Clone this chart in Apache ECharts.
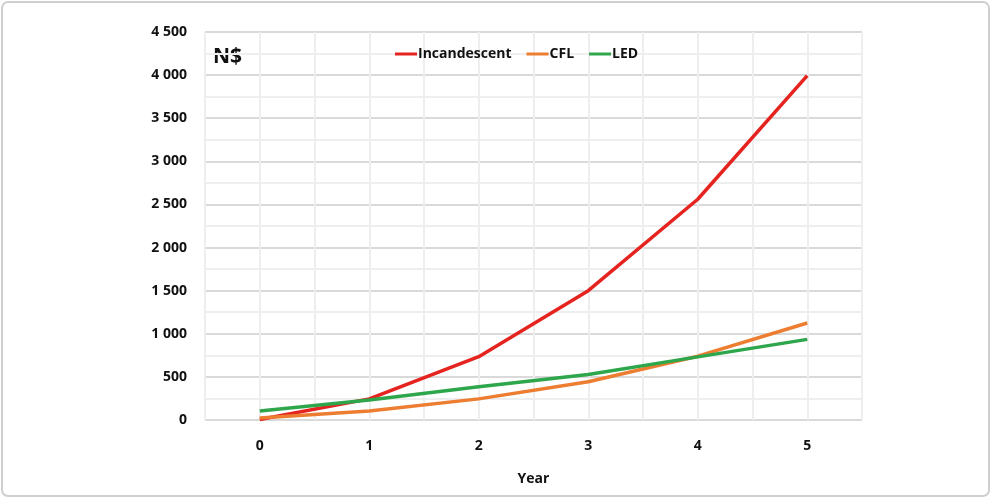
<!DOCTYPE html>
<html>
<head>
<meta charset="utf-8">
<script src="https://cdn.jsdelivr.net/npm/echarts@6/dist/echarts.min.js"></script>
<style>
html,body{margin:0;padding:0;background:#fff;}
#chart{width:991px;height:498px;}
</style>
</head>
<body>
<div id="chart"></div>
<script>
const years = [0, 1, 2, 3, 4, 5];
const incandescent = [5, 245, 735, 1500, 2560, 3995];
const cfl = [22, 105, 245, 444, 740, 1125];
const led = [105, 232, 385, 528, 732, 935];
const seriesNames = ['Incandescent', 'CFL', 'LED'];
const colors = ['#E5231F', '#ED7D31', '#2EA64C'];

const font = '"Open Sans", sans-serif';
const pairs = arr => years.map((x, i) => [x, arr[i]]);
const fmt = v => {
  const s = String(Math.round(v));
  return s.replace(/\B(?=(\d{3})+(?!\d))/g, ' ');
};

const chart = echarts.init(document.getElementById('chart'));
chart.setOption({
  animation: false,
  backgroundColor: '#fff',
  graphic: [{
    type: 'rect',
    shape: {x: 2, y: 2, width: 987, height: 494, r: 6},
    style: {fill: 'none', stroke: '#cfcfcf', lineWidth: 2},
    silent: true
  }, {
    type: 'text',
    left: 213, top: 47,
    style: {text: 'N$', font: 'bold 21px ' + font, fill: '#111'}
  }],
  legend: {
    top: 42, left: 390,
    icon: 'rect', itemWidth: 22, itemHeight: 3, itemGap: 15,
    textStyle: {fontFamily: font, fontWeight: 'bold', fontSize: 14, color: '#111', padding: [0,0,0,-4]},
    data: seriesNames
  },
  grid: {left: 205, right: 129, top: 32, bottom: 78, containLabel: false},
  xAxis: {
    type: 'value', min: -0.5, max: 5.5, interval: 0.5,
    name: 'Year', nameLocation: 'middle', nameGap: 52,
    nameTextStyle: {fontFamily: font, fontWeight: 'bold', fontSize: 14, color: '#111'},
    axisLine: {show: false},
    axisTick: {show: false},
    axisLabel: {
      margin: 19, fontFamily: font, fontWeight: 'bold', fontSize: 14, color: '#111',
      formatter: v => (Math.abs(v - Math.round(v)) < 1e-6 && v >= 0 && v <= 5) ? String(Math.round(v)) : ''
    },
    splitLine: {show: true, lineStyle: {color: '#eeeeee', width: 2}}
  },
  yAxis: {
    type: 'value', min: 0, max: 4500, interval: 500,
    axisLine: {show: false},
    axisTick: {show: false},
    axisLabel: {margin: 18, fontFamily: font, fontWeight: 'bold', fontSize: 14, color: '#111', formatter: fmt},
    splitLine: {show: true, lineStyle: {color: '#d9d9d9', width: 2}},
    minorTick: {show: false, splitNumber: 2},
    minorSplitLine: {show: true, lineStyle: {color: '#eeeeee', width: 2}}
  },
  series: [
    {name: seriesNames[0], type: 'line', data: pairs(incandescent), showSymbol: false, symbol: 'none', lineStyle: {width: 3.5, color: colors[0]}, itemStyle: {color: colors[0]}, z: 3},
    {name: seriesNames[1], type: 'line', data: pairs(cfl), showSymbol: false, symbol: 'none', lineStyle: {width: 3.5, color: colors[1]}, itemStyle: {color: colors[1]}, z: 4},
    {name: seriesNames[2], type: 'line', data: pairs(led), showSymbol: false, symbol: 'none', lineStyle: {width: 3.5, color: colors[2]}, itemStyle: {color: colors[2]}, z: 5}
  ]
});
</script>
</body>
</html>
